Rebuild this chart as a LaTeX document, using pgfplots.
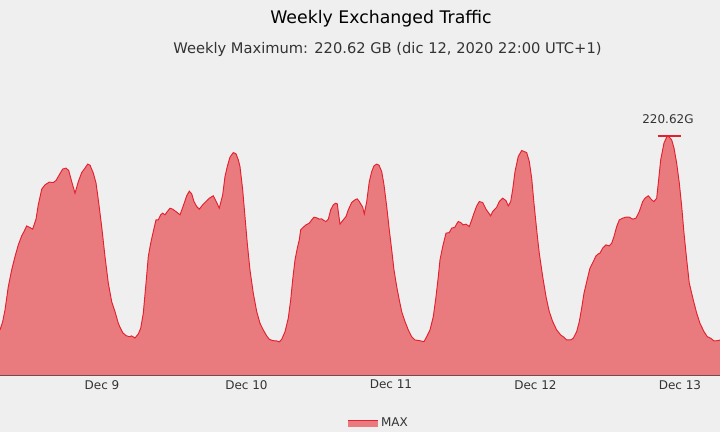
\documentclass[border=0pt]{standalone}
\usepackage{pgfplots}
\pgfplotsset{compat=1.18}
\usepackage{pgfplotstable}
\usepackage{fontspec}
\setmainfont{DejaVu Sans}
\definecolor{bg}{HTML}{EFEFEF}
\definecolor{maxfill}{HTML}{E97A7E}
\definecolor{maxline}{HTML}{E3202E}
\definecolor{txt}{HTML}{333333}

% h = hours since Dec 8 00:00 (UTC+1), gb = exchanged traffic in GB
\pgfplotstableread{
h gb
7.06 41.9
7.51 49.6
7.89 60.3
8.44 81.8
9.00 97.2
9.55 109.4
10.10 120.2
10.66 128.5
11.05 132.5
11.49 137.7
11.93 136.5
12.49 134.7
13.04 143.9
13.42 157.1
13.99 171.5
14.53 175.5
15.25 178.0
15.91 177.6
16.36 179.5
16.91 184.7
17.47 190.0
18.02 190.9
18.47 188.7
18.97 178.5
19.52 167.8
20.07 178.5
20.63 186.8
21.18 190.9
21.63 194.6
22.01 193.6
22.56 186.3
23.01 177.1
23.39 161.7
23.95 137.1
24.50 109.4
25.05 84.9
25.61 68.0
26.16 58.8
26.71 48.1
26.99 44.4
27.44 39.4
27.99 36.7
28.54 35.7
28.93 36.4
29.48 34.5
30.03 38.2
30.43 43.5
30.86 57.3
31.31 84.9
31.69 109.4
32.09 121.8
32.52 132.5
32.97 143.2
33.35 143.2
33.75 147.9
34.08 149.4
34.47 147.9
34.85 150.9
35.30 154.0
35.74 153.1
36.29 150.9
36.96 147.9
37.50 156.1
38.07 165.4
38.50 169.7
38.90 167.2
39.28 160.1
39.73 155.5
40.16 153.1
40.73 157.1
41.27 160.1
41.82 163.2
42.49 165.4
43.05 159.2
43.48 154.0
44.05 166.3
44.43 183.1
44.81 192.3
45.26 201.0
45.81 205.2
46.26 204.0
46.64 198.5
46.92 192.3
47.37 170.9
47.75 146.3
48.13 121.8
48.58 97.2
49.13 75.7
49.70 58.8
50.24 48.1
50.79 41.9
51.36 36.4
51.79 33.3
52.35 32.1
53.02 31.8
53.45 30.9
53.85 33.3
54.40 40.3
54.94 52.7
55.34 69.5
55.67 88.0
56.06 106.4
56.44 117.2
56.77 124.8
57.00 134.0
57.44 136.5
57.88 138.6
58.43 140.2
58.83 143.2
59.21 145.7
59.66 145.1
60.09 143.9
60.49 144.2
60.87 142.6
61.21 141.7
61.59 143.9
61.99 152.5
62.42 157.1
62.82 158.6
63.08 158.0
63.32 147.9
63.53 139.3
63.98 142.6
64.53 146.3
64.91 152.5
65.47 159.2
66.02 161.7
66.40 162.6
66.74 160.1
67.30 154.9
67.57 148.8
67.97 160.1
68.40 178.5
68.80 187.7
69.18 193.0
69.63 194.6
70.01 193.6
70.46 187.7
70.84 175.5
71.29 155.5
71.72 134.0
72.12 115.6
72.50 97.2
72.95 81.8
73.38 69.5
73.78 58.8
74.33 49.6
74.88 41.9
75.44 35.7
75.99 32.7
76.70 32.1
77.48 31.1
77.93 35.7
78.48 41.9
79.03 54.2
79.48 72.6
79.86 91.0
80.14 106.4
80.59 118.6
81.14 131.0
81.68 131.5
82.08 135.6
82.63 136.5
82.91 139.6
83.18 141.7
83.58 140.8
84.01 138.6
84.46 139.3
85.01 137.1
85.41 143.2
85.79 149.4
86.24 156.1
86.67 160.1
87.23 159.2
87.78 153.1
88.56 146.9
88.89 150.9
89.56 154.9
89.99 160.1
90.55 163.2
91.10 161.0
91.48 156.1
91.88 160.1
92.21 170.9
92.60 187.7
93.14 201.6
93.71 207.1
94.54 205.2
94.97 197.0
95.37 181.7
95.75 158.6
96.20 134.0
96.63 112.6
97.20 91.0
97.75 72.6
98.29 58.8
98.86 49.6
99.52 41.9
100.19 37.3
100.73 35.2
101.18 32.7
101.85 32.7
102.28 34.3
102.84 40.3
103.28 49.6
103.67 61.9
104.06 75.7
104.51 86.4
105.05 98.8
105.60 104.8
106.05 110.1
106.43 111.9
106.71 112.6
107.16 117.2
107.71 120.2
108.26 119.3
108.66 121.8
109.04 127.9
109.49 137.1
109.92 143.2
110.48 144.8
111.03 145.7
111.58 145.7
112.15 143.9
112.69 144.8
113.24 150.9
113.81 160.1
114.19 163.2
114.74 165.4
115.30 161.7
115.68 160.1
116.13 163.2
116.40 177.1
116.80 198.5
117.34 213.9
117.79 219.4
118.00 220.62
118.62 216.9
119.01 209.3
119.45 195.5
119.89 177.1
120.29 155.5
120.67 131.0
121.12 106.4
121.55 84.9
122.21 69.5
122.78 57.3
123.32 48.1
123.99 40.3
124.54 35.7
125.10 34.3
125.65 31.8
126.36 32.1
126.65 32.7
}\traffic

\begin{document}
\begin{tikzpicture}
\path[use as bounding box, fill=bg] (0pt,-42.4pt) rectangle (540pt,281.6pt);
\begin{axis}[
  at={(0pt,0pt)}, anchor=south west,
  scale only axis, width=540pt, height=221.6pt,
  xmin=7.06, xmax=126.65, ymin=0, ymax=272,
  axis x line=bottom, axis y line=none,
  x axis line style={-, draw=txt, line width=0.8pt},
  xtick={24,48,72,96,120},
  xticklabels={Dec 9,Dec 10,Dec 11,Dec 12,Dec 13},
  major tick length=0pt,
  xticklabel style={font=\fontsize{9}{11}\selectfont, text=txt},
  ytick=\empty,
  legend style={at={(0.5264,-0.1625)}, anchor=center, draw=none, fill=none,
    font=\fontsize{9}{11}\selectfont, text=txt},
  legend image code/.code={
    \fill[maxfill] (0pt,-2.6pt) rectangle (22.5pt,2.6pt);
    \draw[maxline, line width=0.6pt] (0pt,2.6pt) -- (22.5pt,2.6pt);
  },
]
\addplot[fill=maxfill, draw=none] table[x=h, y=gb] {\traffic} \closedcycle;
\addlegendentry{MAX}
\addplot[forget plot, draw=maxline, line width=0.7pt] table[x=h, y=gb] {\traffic};
\addplot[forget plot, draw=maxline, line width=1.5pt] coordinates {(116.3,220.62) (120.1,220.62)};
\node[font=\fontsize{9}{11}\selectfont, text=txt] at (axis cs:118,220.62) [yshift=12.8pt] {220.62G};
\end{axis}
\node[font=\fontsize{13}{15}\selectfont, text=black] at (285.75pt,267.6pt) {Weekly Exchanged Traffic};
\node[font=\fontsize{11}{13}\selectfont, text=txt] at (290.6pt,244.6pt) {Weekly Maximum: 220.62 GB (dic 12, 2020 22:00 UTC+1)};
\end{tikzpicture}
\end{document}
